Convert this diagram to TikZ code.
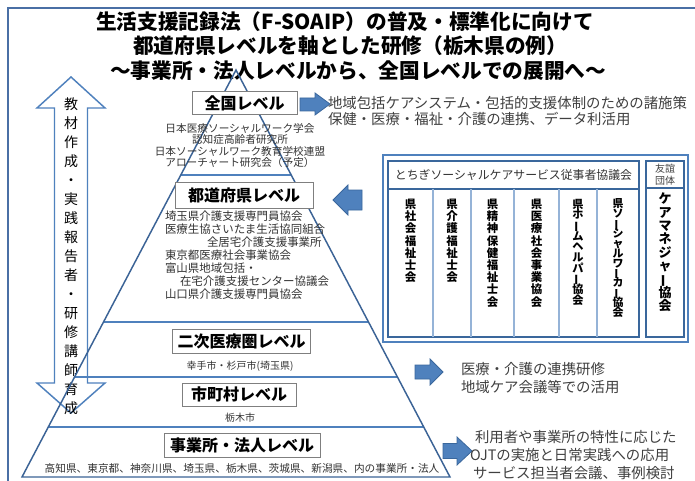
\documentclass[tikz,border=0pt]{standalone}
\usepackage{graphicx}
\usepackage{fontspec}
\setmainfont{Noto Sans CJK JP}
\usetikzlibrary{calc}
\definecolor{frameblue}{HTML}{4A6FA5}
\definecolor{pyrblue}{HTML}{3B6396}
\definecolor{lvlblue}{HTML}{4F81BD}
\definecolor{arrfill}{HTML}{4F81BD}
\definecolor{arrdraw}{HTML}{3A679C}
\definecolor{txtgray}{HTML}{404040}
\definecolor{subgray}{HTML}{333333}
\definecolor{boxgray}{HTML}{7F7F7F}
\definecolor{collight}{HTML}{95B3D7}
\newcommand\vlong{\rotatebox[origin=c]{90}{ー}}
\newcommand\tightls{\lineskiplimit=-20pt\relax}
\begin{document}
\begin{tikzpicture}[x=0.75pt,y=-0.75pt,
  every node/.style={inner sep=0pt, outer sep=0pt},
  lvlbox/.style={draw=boxgray, fill=white, line width=0.75pt, font=\bfseries\fontsize{12}{12}\selectfont},
  smallc/.style={font=\fontsize{8}{8}\selectfont, text=subgray},
  smalll/.style={font=\fontsize{8.6}{8.6}\selectfont, text=subgray, anchor=west},
  tiny/.style={font=\fontsize{7.5}{7.5}\selectfont, text=subgray},
  desc/.style={font=\fontsize{10.8}{10.8}\selectfont, text=txtgray, anchor=west},
  ttl/.style={font=\bfseries\fontsize{15.5}{15.5}\selectfont},
  blkarr/.style={fill=arrfill, draw=arrdraw, line width=0.6pt},
  pyr/.style={draw=pyrblue, line width=1.1pt},
  lvl/.style={draw=lvlblue, line width=1pt},
  dblarr/.style={draw=lvlblue, line width=1.1pt, fill=white},
  vcol/.style={font=\bfseries\fontsize{8.6}{9.15}\selectfont\tightls, align=center, anchor=north},
  frm/.style={draw=frameblue, line width=1.2pt},
]
\useasboundingbox (0,0) rectangle (695,481);
\fill[white] (0,0) rectangle (695,481);
% outer frame
\draw[frm] (8,481) -- (8,8) -- (695,8);

% title
\node[ttl] (t1) at (345,22) {生活支援記録法（F-SOAIP）の普及・標準化に向けて};
\node[ttl] (t2) at (350,46) {都道府県レベルを軸とした研修（栃木県の例）};
\node[ttl] (t3) at (358,71) {～事業所・法人レベルから、全国レベルでの展開へ～};

% left double arrow
\draw[dblarr] (71,77) -- (105,108) -- (87.5,108) -- (87.5,383) -- (105,383) -- (71,413)
  -- (37,383) -- (54.5,383) -- (54.5,108) -- (37,108) -- cycle;
\node[font=\fontsize{10.5}{14.25}\selectfont, align=center] (vtext) at (71,256)
  {教\\材\\作\\成\\・\\実\\践\\報\\告\\者\\・\\研\\修\\講\\師\\育\\成};

% pyramid
\coordinate (apex) at (236,70);
\coordinate (bl) at (22,477);
\coordinate (br) at (450,477);
\coordinate (l1a) at ($(apex)!0.258!(bl)$); \coordinate (l1b) at ($(apex)!0.258!(br)$);
\coordinate (l2a) at ($(apex)!0.619!(bl)$); \coordinate (l2b) at ($(apex)!0.619!(br)$);
\coordinate (l3a) at ($(apex)!0.754!(bl)$); \coordinate (l3b) at ($(apex)!0.754!(br)$);
\coordinate (l4a) at ($(apex)!0.877!(bl)$); \coordinate (l4b) at ($(apex)!0.877!(br)$);
\draw[lvl] (l1a) -- (l1b);
\draw[lvl] (l2a) -- (l2b);
\draw[lvl] (l3a) -- (l3b);
\draw[lvl] (l4a) -- (l4b);
\draw[pyr] (apex) -- (bl) -- (br) -- cycle;

% level boxes
\node[lvlbox, minimum width=78.75pt, minimum height=17.25pt] (zenkoku) at (244.5,103.5) {全国レベル};
\node[lvlbox, minimum width=103.5pt, minimum height=19.5pt] (todofuken) at (244,195.5) {都道府県レベル};
\node[lvlbox, minimum width=104pt, minimum height=18pt] (niji) at (241.5,341.5) {二次医療圏レベル};
\node[lvlbox, minimum width=85.5pt, minimum height=17.25pt] (shichoson) at (239,394.5) {市町村レベル};
\node[lvlbox, minimum width=117pt, minimum height=18pt] (jigyosho) at (242,445) {事業所・法人レベル};

% national sub texts
\node[smallc] (z1) at (240,128) {日本医療ソーシャルワーク学会};
\node[smallc] (z2) at (240,139.5) {認知症高齢者研究所};
\node[smallc] (z3) at (240,151) {日本ソーシャルワーク教育学校連盟};
\node[smallc] (z4) at (240,162.5) {アローチャート研究会（予定）};

% prefecture list
\node[smalll] (p1) at (165,216) {埼玉県介護支援専門員協会};
\node[smalll] (p2) at (165,229) {医療生協さいたま生活協同組合};
\node[smalll] (p3) at (207,242) {全居宅介護支援事業所};
\node[smalll] (p4) at (165,255) {東京都医療社会事業協会};
\node[smalll] (p5) at (165,268) {富山県地域包括・};
\node[smalll] (p6) at (180,281) {在宅介護支援センター協議会};
\node[smalll] (p7) at (165,294) {山口県介護支援専門員協会};

\node[tiny] (n1) at (240,366) {幸手市・杉戸市(埼玉県)};
\node[tiny] (m1) at (240,418) {栃木市};
\node[smallc] (j1) at (242,468) {高知県、東京都、神奈川県、埼玉県、栃木県、茨城県、新潟県、内の事業所・法人};

% organisation box
\draw[draw=lvlblue, line width=0.8pt, fill=white] (383,155) rectangle (688,342);
\draw[draw=arrdraw, line width=1.1pt] (388,161) rectangle (639,337);
\draw[draw=arrdraw, line width=1.4pt] (388,161) rectangle (639,189);
\foreach \cx in {433,471,514,559,597} \draw[draw=collight, line width=0.8pt] (\cx,189) -- (\cx,337);
\draw[draw=arrdraw, line width=1.1pt] (646,161) rectangle (684,337);
\draw[draw=arrdraw, line width=1.1pt] (646,188) -- (684,188);
\node[font=\fontsize{8.9}{8.9}\selectfont, text=subgray] (tochigi) at (513.5,175) {とちぎソーシャルケアサービス従事者協議会};
\node[font=\fontsize{7.5}{9}\selectfont, align=center, text=txtgray] (yugi) at (665,174.5) {友誼\\団体};
\node[vcol] (c1) at (410.5,199) {県\\社\\会\\福\\祉\\士\\会};
\node[vcol] (c2) at (452,199) {県\\介\\護\\福\\祉\\士\\会};
\node[vcol] (c3) at (492.5,199) {県\\精\\神\\保\\健\\福\\祉\\士\\会};
\node[vcol] (c4) at (536.5,199) {県\\医\\療\\社\\会\\事\\業\\協\\会};
\node[vcol, font=\bfseries\fontsize{8.4}{8.0}\selectfont\tightls] (c5) at (578,199) {県\\ホ\\\vlong\\ム\\ヘ\\ル\\パ\\\vlong\\協\\会};
\node[vcol, font=\bfseries\fontsize{8.2}{7.4}\selectfont\tightls] (c6) at (618,199) {県\\ソ\\\vlong\\シ\\ャ\\ル\\ワ\\\vlong\\カ\\\vlong\\協\\会};
\node[vcol, font=\bfseries\fontsize{9.75}{10}\selectfont\tightls] (c7) at (665,193) {ケ\\ア\\マ\\ネ\\ジ\\ャ\\\vlong\\協\\会};

% block arrows
\draw[blkarr] (330,104) -- (315,93) -- (315,98) -- (300,98) -- (300,111) -- (315,111) -- (315,115) -- cycle;
\draw[blkarr] (333,200) -- (348,185) -- (348,190) -- (362,190) -- (362,210) -- (348,210) -- (348,215) -- cycle;
\draw[blkarr] (443,372) -- (430,359) -- (430,365) -- (415,365) -- (415,379) -- (430,379) -- (430,385) -- cycle;
\draw[blkarr] (472,451) -- (457,437) -- (457,443.5) -- (443,443.5) -- (443,458.5) -- (457,458.5) -- (457,465) -- cycle;

% descriptions
\node[desc] (d1) at (328,103) {地域包括ケアシステム・包括的支援体制のための諸施策};
\node[desc] (d2) at (328,119) {保健・医療・福祉・介護の連携、データ利活用};
\node[desc] (d3) at (461,369) {医療・介護の連携研修};
\node[desc] (d4) at (461,387) {地域ケア会議等での活用};
\node[desc] (d5) at (475,437) {利用者や事業所の特性に応じた};
\node[desc] (d6) at (470,455) {OJTの実施と日常実践への応用};
\node[desc] (d7) at (473,473) {サービス担当者会議、事例検討};
\end{tikzpicture}
\end{document}
